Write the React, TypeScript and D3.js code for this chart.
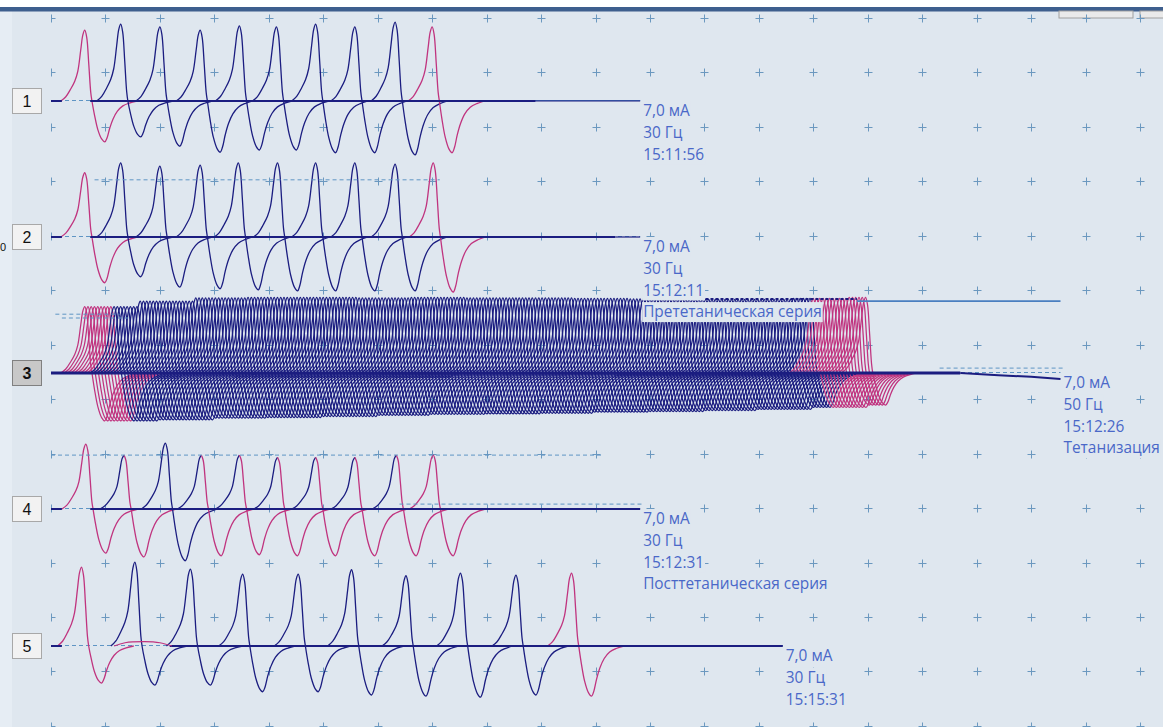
import React, { useRef, useEffect } from 'react';
import * as d3 from 'd3';

const W = 1163;
const H = 727;
const BG = '#dfe7ef';
const NAVY = '#1b1d80';
const PINK = '#c0347f';
const TEXT = '#4a68c8';
const GRID = '#6b98bf';
const DASH = '#5f95c4';

// one response as it looks in the picture: [ms from peak, share of peak (+) / of trough (-)]
const waveShape = [
    [-22, 0], [-17.4, 0.06], [-12.9, 0.17], [-9.2, 0.28], [-6.4, 0.42], [-3.7, 0.72],
    [-1.8, 0.93], [0, 1], [1.8, 0.9], [3.7, 0.52], [5.5, 0.12], [6.6, 0],
    [9, -0.35], [12, -0.7], [15.5, -0.93], [18.4, -1], [20.5, -0.9], [23, -0.66],
    [26, -0.44], [30, -0.25], [35, -0.12], [41, -0.05], [48, 0],
];

// row 1 - 15:11:56
const row1Peaks = [31, 64, 100, 137, 173, 207, 243, 279, 316, 350];
const row1Amp = [1.30, 1.41, 1.36, 1.30, 1.38, 1.36, 1.41, 1.36, 1.45, 1.36];
const row1Depth = [0.75, 0.66, 0.83, 0.94, 0.90, 0.90, 0.95, 0.95, 0.99, 0.95];
const row1Colour = ['p', 'b', 'b', 'b', 'b', 'b', 'b', 'b', 'b', 'p'];

// row 2 - 15:12:11
const row2Peaks = [31, 64, 100, 137, 172, 208, 243, 279, 316, 351];
const row2Amp = [1.18, 1.36, 1.30, 1.32, 1.36, 1.36, 1.36, 1.36, 1.34, 1.36];
const row2Depth = [0.84, 0.73, 0.92, 0.95, 0.97, 0.99, 0.99, 0.99, 0.99, 1.01];
const row2Colour = ['p', 'b', 'b', 'b', 'b', 'b', 'b', 'b', 'b', 'p'];

// row 3 - tetanic train, 15:12:26 (envelope read per 50 ms from the first peak)
const tetFirstPeak = 31;
const tetStep = 3.0;
const tetCount = 240;
const tetAmpBlocks = [1.22, 1.32, 1.38, 1.39, 1.39, 1.38, 1.39, 1.38, 1.38, 1.37, 1.36, 1.35, 1.35, 1.37, 1.39];
const tetDepthBlocks = [0.88, 0.86, 0.83, 0.82, 0.80, 0.78, 0.76, 0.75, 0.74, 0.72, 0.71, 0.69, 0.67, 0.63, 0.59];
const tetPinkHead = 9;
const tetPinkTail = 17;

// row 4 - 15:12:31
const row4Peaks = [32, 67, 105, 138, 173, 208, 243, 279, 317, 351];
const row4Amp = [1.19, 0.99, 1.21, 0.99, 0.99, 0.95, 0.95, 0.95, 0.99, 0.99];
const row4Depth = [0.81, 0.88, 0.95, 0.86, 0.84, 0.86, 0.86, 0.86, 0.86, 0.86];
const row4Colour = ['p', 'bp', 'b', 'bp', 'bp', 'bp', 'bp', 'bp', 'bp', 'p'];

// row 5 - 15:15:31
const row5Peaks = [28, 77, 128, 176, 227, 276, 326, 376, 427, 478];
const row5Amp = [1.45, 1.54, 1.41, 1.32, 1.32, 1.40, 1.29, 1.34, 1.30, 1.34];
const row5Depth = [0.68, 0.72, 0.72, 0.84, 0.84, 0.90, 0.92, 0.94, 0.90, 0.92];
const row5Colour = ['p', 'b', 'b', 'b', 'b', 'b', 'b', 'b', 'b', 'p'];
const row5Hump = [[58, 0], [68, 0.06], [86, 0.08], [100, 0.06], [111, 0]];

const rowEnds = [541, 541, 927, 541, 672];
const rowNames = ['1', '2', '3', '4', '5'];
const rowLabels = [
    ['7,0 мА', '30 Гц', '15:11:56'],
    ['7,0 мА', '30 Гц', '15:12:11', 'Прететаническая серия'],
    ['7,0 мА', '50 Гц', '15:12:26', 'Тетанизация'],
    ['7,0 мА', '30 Гц', '15:12:31', 'Посттетаническая серия'],
    ['7,0 мА', '30 Гц', '15:15:31'],
];

const App = () => {
    const svgRef = useRef(null);

    useEffect(() => {
        const svg = d3.select(svgRef.current);
        svg.selectAll('*').remove();

        const x = d3.scaleLinear().domain([0, 1000]).range([51, 1140]);
        const gridY = d3.scaleLinear().domain([0, 13]).range([18, 18 + 13 * 54.45]);
        const bases = [101, 237, 373, 509, 646];
        const yRow = bases.map(b => d3.scaleLinear().domain([-1, 1]).range([b + 54.45, b - 54.45]));

        // background and window chrome
        svg.append('rect').attr('width', W).attr('height', H).attr('fill', BG);
        svg.append('rect').attr('width', 12).attr('height', H).attr('fill', '#e6edf4');
        svg.append('rect').attr('width', W).attr('height', 7).attr('fill', '#fff');
        svg.append('rect').attr('y', 7).attr('width', W).attr('height', 4.5).attr('fill', '#3e5f8e');
        svg.append('rect').attr('x', 1059).attr('y', 11).attr('width', 74).attr('height', 7)
            .attr('fill', '#eaeaea').attr('stroke', '#a0a0a0');
        svg.append('rect').attr('x', 1140).attr('y', 11).attr('width', 30).attr('height', 7)
            .attr('fill', '#eaeaea').attr('stroke', '#a0a0a0');

        // grid crosses
        const grid = svg.append('g').attr('stroke', GRID).attr('stroke-width', 1).attr('fill', 'none');
        d3.range(0, 1001, 50).forEach((t, k) => {
            d3.range(0, 14).forEach(j => {
                const cx = Math.round(x(t)) + 0.5;
                const cy = Math.round(gridY(j)) + 0.5;
                const d = k === 0
                    ? `M${cx},${cy - 4}V${cy + 4}M${cx},${cy}H${cx + 4}`
                    : `M${cx - 4},${cy}H${cx + 4}M${cx},${cy - 4}V${cy + 4}`;
                grid.append('path').attr('d', d);
            });
        });

        const line = d3.line().x(d => d[0]).y(d => d[1]).curve(d3.curveCatmullRom.alpha(0.5));
        const flat = d3.line().x(d => d[0]).y(d => d[1]);

        const hline = (g, y, t0, t1, colour, width, dash) => {
            g.append('path')
                .attr('d', flat([[x(t0), y], [x(t1), y]]))
                .attr('stroke', colour).attr('stroke-width', width).attr('fill', 'none')
                .attr('stroke-dasharray', dash || null);
        };

        const drawWave = (g, yS, tPeak, amp, depth, colour, sw) => {
            const pts = waveShape.map(([dt, f]) => [x(tPeak + dt), yS(f >= 0 ? f * amp : f * depth)]);
            const i0 = waveShape.findIndex(d => d[0] === 0);
            const parts = colour === 'bp'
                ? [[pts.slice(0, i0 + 1), NAVY], [pts.slice(i0), PINK]]
                : [[pts, colour === 'p' ? PINK : NAVY]];
            parts.forEach(([p, c]) => {
                g.append('path').attr('d', line(p)).attr('fill', 'none')
                    .attr('stroke', c).attr('stroke-width', sw || 1.3);
            });
        };

        const rows = [
            [row1Peaks, row1Amp, row1Depth, row1Colour],
            [row2Peaks, row2Amp, row2Depth, row2Colour],
            null,
            [row4Peaks, row4Amp, row4Depth, row4Colour],
            [row5Peaks, row5Amp, row5Depth, row5Colour],
        ];

        rows.forEach((row, r) => {
            const g = svg.append('g');
            const yS = yRow[r];
            const b = bases[r];
            // dashed reference baseline
            hline(g, b - 0.5, 0, rowEnds[r], DASH, 1, '4,3');

            if (row) {
                const [peaks, amp, depth, col] = row;
                peaks.forEach((p, i) => drawWave(g, yS, p, amp[i], depth[i], col[i]));
            } else {
                d3.range(tetCount).forEach(i => {
                    const tp = tetFirstPeak + i * tetStep;
                    const blk = Math.min(tetAmpBlocks.length - 1, Math.floor((tp - tetFirstPeak) / 50));
                    const pink = i < tetPinkHead || i >= tetCount - tetPinkTail;
                    drawWave(g, yS, tp, tetAmpBlocks[blk], tetDepthBlocks[blk], pink ? 'p' : 'b', 1.25);
                });
            }
        });

        // extra reference lines per row
        const gx = svg.append('g');
        hline(gx, yRow[0](0), 0, 10, NAVY, 2);
        hline(gx, yRow[0](0) - 0.5, 36, 541, '#4a7fc0', 1);
        hline(gx, yRow[0](0), 36, 445, NAVY, 2.2);
        hline(gx, yRow[0](0), 445, 541, NAVY, 1.2);

        hline(gx, yRow[1](1.05), 40, 357, DASH, 1, '4,3');
        hline(gx, yRow[1](0), 0, 10, NAVY, 2);
        hline(gx, yRow[1](0), 36, 518, NAVY, 2.2);
        hline(gx, yRow[1](0), 518, 541, NAVY, 1.2);

        hline(gx, yRow[2](1.08), 4, 63, DASH, 1, '4,3');
        hline(gx, yRow[2](1.01), 10, 71, DASH, 1, '4,3');
        hline(gx, yRow[2](1.36), 601, 740, NAVY, 2, '3,2');
        hline(gx, yRow[2](1.32), 740, 927, '#4a7fc0', 1.6);
        hline(gx, yRow[2](0.09), 816, 931, DASH, 1, '4,3');
        hline(gx, yRow[2](0), 0, 835, NAVY, 3);
        gx.append('path')
            .attr('d', flat([[x(835), yRow[2](0)], [x(870), yRow[2](-0.04)], [x(900), yRow[2](-0.07)], [x(927), yRow[2](-0.11)]]))
            .attr('stroke', NAVY).attr('stroke-width', 2).attr('fill', 'none');

        hline(gx, yRow[3](0.99), 0, 507, DASH, 1, '4,3');
        hline(gx, yRow[3](0.09), 320, 544, DASH, 1, '4,3');
        hline(gx, yRow[3](0), 0, 10, NAVY, 2);
        hline(gx, yRow[3](0), 36, 541, NAVY, 2.2);

        hline(gx, yRow[4](0), 0, 10, NAVY, 2);
        hline(gx, yRow[4](0), 109, 672, NAVY, 2.2);
        gx.append('path')
            .attr('d', line(row5Hump.map(([t, v]) => [x(t), yRow[4](v)])))
            .attr('stroke', PINK).attr('stroke-width', 1.2).attr('fill', 'none');

        // row number boxes
        bases.forEach((b, r) => {
            const sel = r === 2;
            svg.append('rect').attr('x', 12.5).attr('y', b - 12.5).attr('width', 29).attr('height', 25)
                .attr('fill', sel ? '#c8c8c8' : '#f2f2f2').attr('stroke', sel ? '#808080' : '#a8a8a8');
            svg.append('text').attr('x', 27).attr('y', b).attr('dy', '0.36em')
                .attr('text-anchor', 'middle').attr('font-family', 'Liberation Sans, Arial, sans-serif')
                .attr('font-size', 16).attr('font-weight', sel ? 'bold' : 'normal').attr('fill', '#111')
                .text(rowNames[r]);
        });
        svg.append('text').attr('x', 0).attr('y', 251)
            .attr('font-family', 'Liberation Sans, Arial, sans-serif').attr('font-size', 11).attr('fill', '#111').text('0');

        // row captions
        rowLabels.forEach((lines, r) => {
            const tx = x(rowEnds[r]) + 3;
            lines.forEach((s, i) => {
                const cy = bases[r] + 10 + i * 21.7;
                const bgRect = svg.append('rect').attr('fill', BG);
                const t = svg.append('text').attr('x', tx).attr('y', cy).attr('dy', '0.35em')
                    .attr('font-family', 'Open Sans, Noto Sans, sans-serif').attr('font-size', 15.4)
                    .attr('fill', TEXT).text(s);
                const w = t.node().getComputedTextLength();
                bgRect.attr('x', tx - 1).attr('y', cy - 10).attr('width', w + 2).attr('height', 20);
            });
        });
    }, []);

    return (
        <svg ref={svgRef} width={W} height={H} style={{ position: 'fixed', left: 0, top: 0 }}></svg>
    );
};

export default App;
